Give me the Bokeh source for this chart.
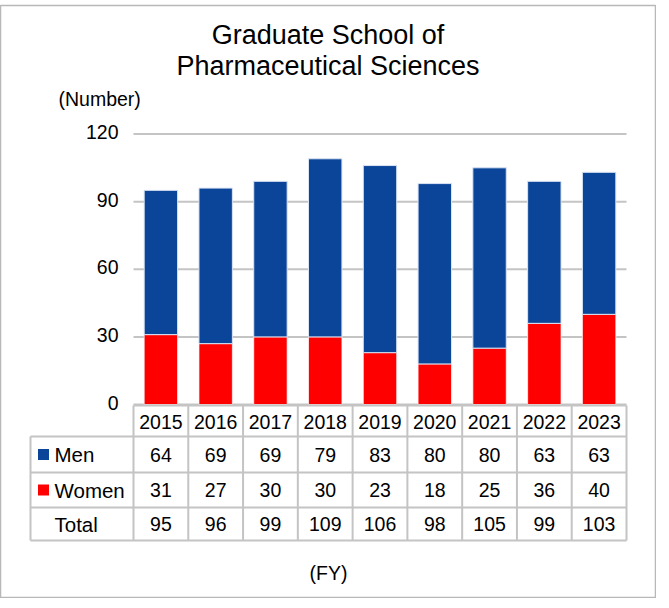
from bokeh.plotting import figure
from bokeh.models import Range1d
from bokeh.core.properties import value
from bokeh.embed import file_html
from bokeh.resources import INLINE

# ---- data ----
years = ["2015", "2016", "2017", "2018", "2019", "2020", "2021", "2022", "2023"]
men = [64, 69, 69, 79, 83, 80, 80, 63, 63]
women = [31, 27, 30, 30, 23, 18, 25, 36, 40]
totals = [95, 96, 99, 109, 106, 98, 105, 99, 103]
y_ticks = [0, 30, 60, 90, 120]
title_lines = ["Graduate School of", "Pharmaceutical Sciences"]
series_names = ["Men", "Women", "Total"]

BLUE = "#0B4599"
RED = "#FF0000"
GRID = "#c4c4c4"
TXT = "#000000"
FONT = value("Liberation Sans")

# ---- layout (page pixels) ----
FR_L, FR_R, FR_T, FR_B = 8, 663, 13, 605
PLOT_L, PLOT_R = 141, 634
Y0_PX, Y120_PX = 412, 141.5
n = len(years)
cat_w = (PLOT_R - PLOT_L) / n
ppu = (Y0_PX - Y120_PX) / 120.0

x_start = (FR_L - PLOT_L) / cat_w
x_end = (FR_R - PLOT_L) / cat_w
y_start = (Y0_PX - FR_B) / ppu
y_end = (Y0_PX - FR_T) / ppu

p = figure(width=656, height=598, output_backend="svg", toolbar_location=None,
           title=None, x_range=Range1d(x_start, x_end), y_range=Range1d(y_start, y_end),
           min_border_left=0, min_border_right=1, min_border_top=5, min_border_bottom=1,
           x_axis_type=None, y_axis_type=None)
p.extra_x_ranges = {"px": Range1d(FR_L, FR_R)}
p.extra_y_ranges = {"py": Range1d(FR_B, FR_T)}
p.xgrid.visible = False
p.ygrid.visible = False
p.outline_line_color = "#b8b8b8"
p.outline_line_width = 1.5
p.background_fill_color = "white"
p.border_fill_color = "white"

# gridlines
p.segment(x0=[0] * len(y_ticks), x1=[n] * len(y_ticks), y0=y_ticks, y1=y_ticks,
          line_color=GRID, line_width=2)

# bars
xs = [i + 0.5 for i in range(n)]
tops = [w + m for w, m in zip(women, men)]
p.vbar(x=xs, width=0.61, bottom=0, top=women, fill_color=RED,
       line_color="white", line_width=1, line_alpha=0.7)
p.vbar(x=xs, width=0.61, bottom=women, top=tops, fill_color=BLUE,
       line_color="#dbe4f3", line_width=1)

# y tick labels
p.text(x=[126] * len(y_ticks), y=y_ticks, text=[str(t) for t in y_ticks],
       x_range_name="px", text_font=FONT, text_font_size="19.5px",
       text_align="right", text_baseline="middle", y_offset=-2, text_color=TXT)

# title & axis captions
p.text(x=[335.5, 335.5], y=[42, 73], text=title_lines, x_range_name="px", y_range_name="py",
       text_font=FONT, text_font_size="27px", text_align="center", text_baseline="middle",
       text_color=TXT)
p.text(x=[66], y=[106], text=["(Number)"], x_range_name="px", y_range_name="py",
       text_font=FONT, text_font_size="19.5px", text_align="left", text_baseline="middle",
       text_color=TXT)
p.text(x=[336], y=[580], text=["(FY)"], x_range_name="px", y_range_name="py",
       text_font=FONT, text_font_size="19.5px", text_align="center", text_baseline="middle",
       text_color=TXT)

# ---- data table ----
row_edges = [413, 444, 480, 515, 548]
tab_left = 38
row_centers = [(row_edges[i] + row_edges[i + 1]) / 2 for i in range(4)]

# vertical lines at category boundaries (data x)
p.segment(x0=list(range(n + 1)), x1=list(range(n + 1)),
          y0=[row_edges[0]] * (n + 1), y1=[row_edges[-1]] * (n + 1),
          y_range_name="py", line_color=GRID, line_width=2)
# left column vertical line
p.segment(x0=[tab_left], x1=[tab_left], y0=[row_edges[1]], y1=[row_edges[-1]],
          x_range_name="px", y_range_name="py", line_color=GRID, line_width=2)
# horizontal lines
p.segment(x0=[0], x1=[n], y0=[row_edges[0]], y1=[row_edges[0]],
          y_range_name="py", line_color=GRID, line_width=2)
p.segment(x0=[tab_left] * 4, x1=[PLOT_R] * 4, y0=row_edges[1:], y1=row_edges[1:],
          x_range_name="px", y_range_name="py", line_color=GRID, line_width=2)

cell_font = dict(text_font=FONT, text_baseline="middle",
                 text_color=TXT, y_range_name="py")
p.text(x=xs, y=[row_centers[0] + 1] * n, text=years, text_align="center",
       text_font_size="19.5px", **cell_font)
for r, vals in enumerate([men, women, totals]):
    p.text(x=xs, y=[row_centers[r + 1]] * n, text=[str(v) for v in vals],
           text_align="center", text_font_size="19.5px", **cell_font)
p.text(x=[62] * 3, y=row_centers[1:], text=series_names, x_range_name="px",
       text_align="left", text_font_size="20.5px", **cell_font)

# legend keys
p.rect(x=[51, 51], y=row_centers[1:3], width=11, height=11, width_units="screen",
       height_units="screen", fill_color=[BLUE, RED], line_color=None,
       x_range_name="px", y_range_name="py")

open("out.html", "w").write(file_html(p, INLINE))
